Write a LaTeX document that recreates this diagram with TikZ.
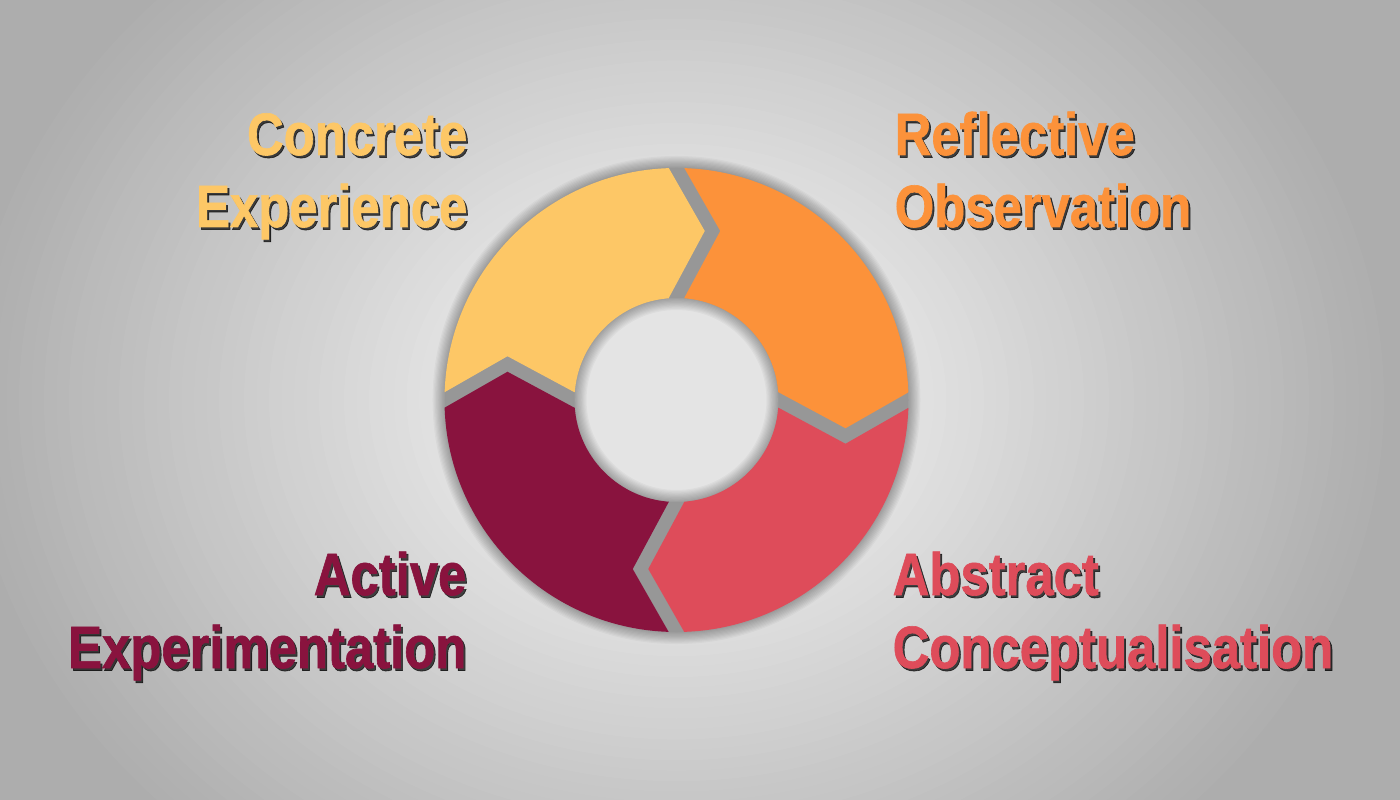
\documentclass[tikz,border=0pt]{standalone}
\usepackage{fontspec}
\newfontfamily\kolbfont{Liberation Sans}[FakeStretch=0.85, FakeBold=1]
\usetikzlibrary{calc}

\definecolor{cyellow}{HTML}{FDC766}
\definecolor{corange}{HTML}{FC923A}
\definecolor{cred}{HTML}{DE4C5A}
\definecolor{cmaroon}{HTML}{89133E}
\definecolor{cgap}{HTML}{979797}
\definecolor{bgin}{HTML}{E4E4E4}
\definecolor{bgout}{HTML}{ADADAD}

\begin{document}
\begin{tikzpicture}[x=0.01cm, y=0.01cm]
    % --- Styles ---
    \tikzstyle{label_text}=[font={\kolbfont\bfseries\fontsize{17}{20}\selectfont}, inner sep=0pt]
    \tikzstyle{label_shadow}=[label_text, text=black, opacity=0.7]
    \tikzstyle{ring_area}=[even odd rule]

    % --- 0. Background (stepped radial glow) ---
    \useasboundingbox (-676.5,-400) rectangle (723.5,400);
    \begin{scope}
        \clip (-676.5,-400) rectangle (723.5,400);
        \fill[bgout] (-676.5,-400) rectangle (723.5,400);
        \foreach \k in {0,...,40} {
            \pgfmathsetmacro{\rr}{720-\k*12.5}
            \pgfmathtruncatemacro{\pct}{(\rr-220)/5}
            \fill[bgout!\pct!bgin] (0,0) ellipse [x radius=\rr, y radius=\rr/1.2];
        }
    \end{scope}

    % --- 1. Soft shadow and gap colour under the ring ---
    \foreach \i in {1,...,10}
        \draw[black, opacity=0.03, line width=\i*0.024cm] (0,0) circle (232) (0,0) circle (102);
    \fill[cgap, ring_area] (0,0) circle (232) (0,0) circle (102);

    % --- 2. Draw Segments ---
    % each segment: arrow tip on its clockwise end, notch on the other
    \foreach \col/\rot in {cyellow/0, corange/-90, cred/-180, cmaroon/-270} {
        \begin{scope}[rotate=\rot]
            \clip (-7.75,320) -- (-7.75,232) -- (28.25,169) -- (-7.75,102) -- (-7.75,7.75)
                -- (-102,7.75) -- (-169,43.75) -- (-232,7.75) -- (-320,7.75) -- (-320,320) -- cycle;
            \fill[\col, ring_area] (0,0) circle (232) (0,0) circle (102);
        \end{scope}
    }

    % --- 3. Labels ---
    \foreach \nm/\x/\y/\anc/\col/\txt in {
        ceA/-208.5/245/base east/cyellow/Concrete,
        ceB/-208.5/173/base east/cyellow/Experience,
        roA/217.5/245/base west/corange/Reflective,
        roB/217.5/173/base west/corange/Observation,
        acA/215.5/-195/base west/cred/Abstract,
        acB/215.5/-268/base west/cred/Conceptualisation,
        aeA/-209.5/-195/base east/cmaroon/Active,
        aeB/-209.5/-268/base east/cmaroon/Experimentation} {
        \node[label_shadow, anchor=\anc] at (\x+2,\y-2.5) {\txt};
        \node[label_text, anchor=\anc, text=\col] (\nm) at (\x,\y) {\txt};
    }
\end{tikzpicture}
\end{document}
